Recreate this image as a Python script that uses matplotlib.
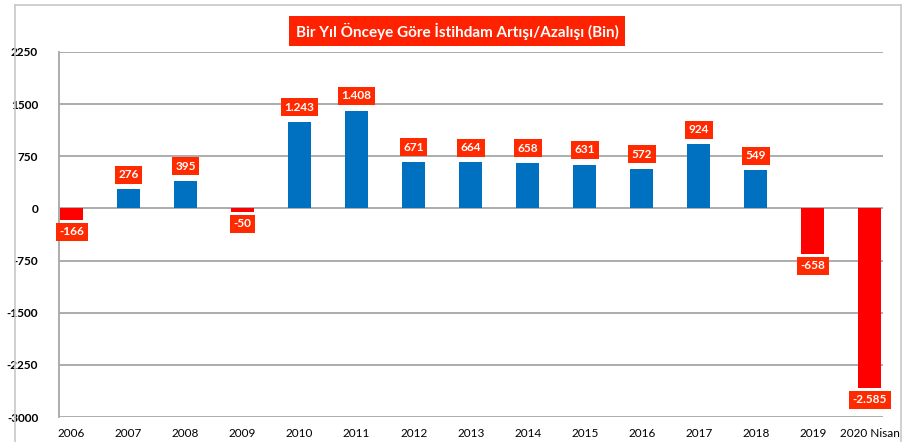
import numpy as np
import matplotlib.pyplot as plt
from matplotlib.lines import Line2D

plt.rcParams['font.family'] = ['Lato', 'DejaVu Sans']

years = ['2006', '2007', '2008', '2009', '2010', '2011', '2012', '2013',
         '2014', '2015', '2016', '2017', '2018', '2019', '2020 Nisan']
values = [-166, 276, 395, -50, 1243, 1408, 671, 664, 658, 631, 572, 924, 549, -658, -2585]
labels = ['-166', '276', '395', '-50', '1.243', '1.408', '671', '664', '658', '631',
          '572', '924', '549', '-658', '-2.585']
yticks = [-3000, -2250, -1500, -750, 0, 750, 1500, 2250]

fig = plt.figure(figsize=(9.06, 4.42), dpi=100)
ax = fig.add_axes([59/906, 1 - 417/442, (883 - 59)/906, (417 - 52)/442])

x = np.arange(len(years))
colors = ['#0070C0' if v >= 0 else '#FF0000' for v in values]
ax.bar(x, values, width=0.40, color=colors, zorder=3)

# value labels in red boxes
for xi, v, lab in zip(x, values, labels):
    if v >= 0:
        off, va = 10.5, 'center'
    else:
        off, va = -8.5, 'center'
    ax.annotate(lab, (xi, v), xytext=(0, off), textcoords='offset points',
                ha='center', va=va, color='white', fontsize=8.5, fontweight='bold',
                bbox=dict(boxstyle='square,pad=0.3', fc='#FF2A00', ec='none'),
                zorder=5)

ax.set_ylim(-3000, 2250)
ax.set_xlim(-0.22, 14.23)
ax.set_yticks(yticks)
ax.set_yticklabels([str(t) for t in yticks], fontweight='bold', fontsize=8.5)
ax.set_xticks(x)
ax.set_xticklabels(years, fontsize=8.5)
ax.tick_params(axis='both', length=0)
ax.tick_params(axis='y', pad=15)
ax.tick_params(axis='x', pad=8)
ax.grid(axis='y', color='#A6A6A6', linewidth=1.3, zorder=0)
for s in ['top', 'right', 'bottom']:
    ax.spines[s].set_visible(False)
ax.spines['left'].set_color('#A6A6A6')
ax.spines['left'].set_linewidth(1.3)

# title box
fig.text(457/906, 1 - 31/442, 'Bir Yıl Önceye Göre İstihdam Artışı/Azalışı (Bin)',
         ha='center', va='center', color='white', fontsize=11, fontweight='bold',
         bbox=dict(boxstyle='square,pad=0.45', fc='#FF2200', ec='none'))

# outer chart border
bc = '#C8C8C8'
fig.add_artist(Line2D([15/906, 15/906], [0, 1 - 5/442], color=bc, lw=1.2))
fig.add_artist(Line2D([15/906, 901/906], [1 - 5/442, 1 - 5/442], color=bc, lw=1.2))
fig.add_artist(Line2D([901/906, 901/906], [0, 1 - 5/442], color=bc, lw=1.2))

fig.savefig('out.png', dpi=100)
